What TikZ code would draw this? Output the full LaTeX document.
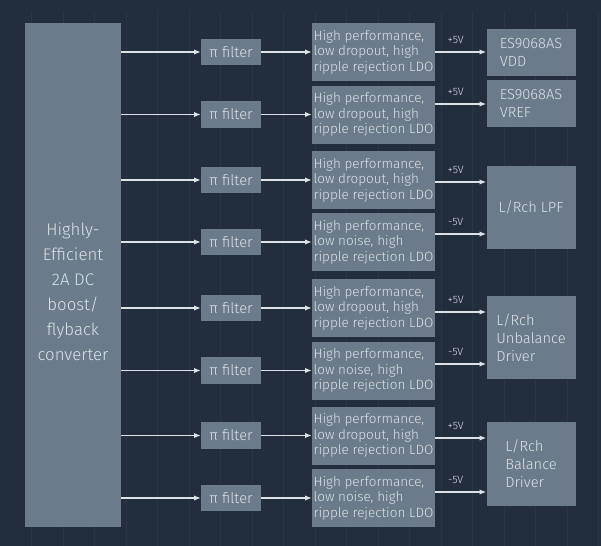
\documentclass[tikz,border=0pt]{standalone}
\usepackage{fontspec}
\setmainfont{Fira Sans}[UprightFont={* Light}]
\usetikzlibrary{arrows.meta}
\definecolor{bgnavy}{HTML}{222E3E}
\definecolor{gridline}{HTML}{28354A}
\definecolor{boxgray}{HTML}{6C7B8B}
\definecolor{txtlight}{HTML}{DCE2E8}
\tikzset{
  blk/.style={fill=boxgray, draw=none, inner sep=0pt, text=txtlight},
  filt/.style={blk, minimum width=45pt, minimum height=20pt, font=\fontsize{11}{12}\selectfont},
  ldo/.style={blk, minimum width=92.25pt, minimum height=43.5pt, align=left, font=\fontsize{10.1}{11.7}\selectfont},
  load/.style={blk, minimum width=66.75pt, align=left, font=\fontsize{11}{13.5}\selectfont},
  feed/.style={draw=txtlight, line width=0.9pt, -{Latex[length=5pt,width=4pt]}},
  volt/.style={text=txtlight, font=\fontsize{8}{9}\selectfont, inner sep=0pt}
}
\begin{document}
\begin{tikzpicture}[x=0.75pt, y=-0.75pt]
                \fill[bgnavy] (0,0) rectangle (601,546);
                \useasboundingbox (0,0) rectangle (601,546);
                \draw[gridline, line width=0.4pt] (14,11) grid[xstep=31.5,ystep=31.5] (601,546);
                % converter
                \node[blk, minimum width=72pt, minimum height=378pt] (conv) at (73,275) {};
                \node[text=txtlight, align=center, font=\fontsize{12.6}{18.75}\selectfont] (convtxt) at (73,292) {Highly-\\Efficient\\2A DC\\boost/\\flyback\\converter};
                % filter and LDO rows
                \foreach \i/\y/\kind in {1/52/dropout, 2/114.5/dropout, 3/180/dropout, 4/242/noise,
                                         5/308/dropout, 6/370.5/noise, 7/435.5/dropout, 8/498/noise} {
                    \node[filt] (pi\i) at (231,\y) {π filter};
                    \node[ldo] (ldo\i) at (373.5,\y) {High performance,\\low \kind, high\\ripple rejection LDO};
                    \coordinate (src\i) at (conv.east |- pi\i);
                    \draw[feed] (src\i) -- (pi\i);
                    \draw[feed] (pi\i) -- (ldo\i);
                }
                % loads
                \node[load, minimum height=35.25pt] (vdd) at (531,52.5) {ES9068AS\\VDD};
                \node[load, minimum height=35.25pt] (vref) at (531,103.5) {ES9068AS\\VREF};
                \node[load, minimum height=62.25pt] (lpf) at (531,207.5) {L/Rch LPF};
                \node[load, minimum height=62.25pt] (unbal) at (531,337.5) {L/Rch\\Unbalance\\Driver};
                \node[load, minimum height=63pt] (bal) at (531,464) {L/Rch\\Balance\\Driver};
                % supply outputs
                \foreach \i/\t/\y/\v in {1/vdd/52/+5V, 2/vref/104/+5V, 3/lpf/182/+5V, 4/lpf/234/-5V,
                                         5/unbal/312/+5V, 6/unbal/364/-5V, 7/bal/438/+5V, 8/bal/492/-5V} {
                    \coordinate (out\i) at (ldo\i.east |- 0,\y);
                    \draw[feed] (out\i) -- (\t.west |- out\i) node[volt, pos=0.4, above=6pt] {\v};
                }
            \end{tikzpicture}
\end{document}
